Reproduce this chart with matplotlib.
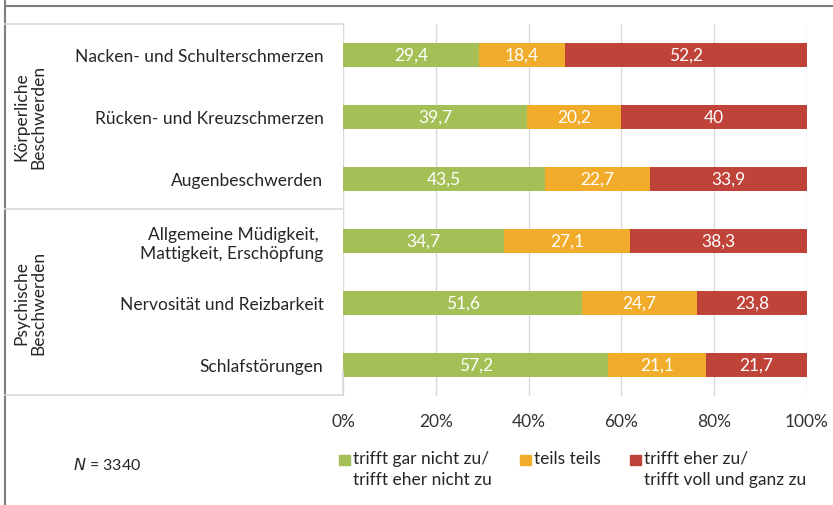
import matplotlib
matplotlib.use("Agg")
import matplotlib.pyplot as plt
from matplotlib.lines import Line2D
from matplotlib.patches import Rectangle

categories = ["Nacken- und Schulterschmerzen", "Rücken- und Kreuzschmerzen", "Augenbeschwerden",
              "Allgemeine Müdigkeit, \nMattigkeit, Erschöpfung", "Nervosität und Reizbarkeit", "Schlafstörungen"]
s_no = [29.4, 39.7, 43.5, 34.7, 51.6, 57.2]
s_partly = [18.4, 20.2, 22.7, 27.1, 24.7, 21.1]
s_yes = [52.2, 40.0, 33.9, 38.3, 23.8, 21.7]
series_names = ["trifft gar nicht zu/\ntrifft eher nicht zu", "teils teils", "trifft eher zu/\ntrifft voll und ganz zu"]
colors = ["#A3BF55", "#F2AC2C", "#C0433A"]
xticks = [0, 20, 40, 60, 80, 100]
groups = ["Körperliche\nBeschwerden", "Psychische\nBeschwerden"]

plt.rcParams['font.family'] = ['Lato', 'DejaVu Sans']
W, H = 833, 506
fig = plt.figure(figsize=(W/100, H/100), dpi=100)

def fx(px): return px / W
def fy(py): return 1 - py / H

ax = fig.add_axes([fx(343), fy(397), fx(807) - fx(343), fy(25) - fy(397)])
y = list(range(len(categories)))
left = [0]*len(categories)
for vals, col, name in zip([s_no, s_partly, s_yes], colors, series_names):
    ax.barh(y, vals, left=left, height=0.4, color=col, label=name, zorder=3)
    for yi, l, v in zip(y, left, vals):
        txt = f"{v:g}".replace(".", ",")
        ax.text(l + v/2, yi, txt, ha='center', va='center', color='white', fontsize=12.5, zorder=4)
    left = [a + b for a, b in zip(left, vals)]

ax.set_xlim(0, 100)
ax.set_ylim(5.5, -0.5)
ax.set_xticks(xticks)
ax.set_xticklabels([f"{t}%" for t in xticks], fontsize=12.5, color='#333333')
ax.set_yticks(y)
ax.set_yticklabels(categories, fontsize=12.5, color='#262626', ha='right')
ax.tick_params(axis='x', length=0, pad=12)
ax.tick_params(axis='y', length=0, pad=14)
for s in ax.spines.values():
    s.set_visible(False)
ax.grid(axis='x', color='#D9D9D9', linewidth=1, zorder=0)
ax.set_axisbelow(True)

# figure border lines
fig.add_artist(Line2D([fx(5), fx(5)], [0, 1], color='#7F7F7F', linewidth=1.5))
fig.add_artist(Line2D([fx(5), 1], [fy(7), fy(7)], color='#7F7F7F', linewidth=1.5))
# table lines
for py in [25, 210, 396]:
    fig.add_artist(Line2D([fx(5), fx(343)], [fy(py), fy(py)], color='#D9D9D9', linewidth=1.2))
fig.add_artist(Line2D([fx(343), fx(343)], [fy(372), fy(396)], color='#D9D9D9', linewidth=1.2))

# group labels
fig.text(fx(30), fy(117), groups[0], rotation=90, ha='center', va='center', fontsize=12.5,
         color='#262626', multialignment='center', linespacing=1.1)
fig.text(fx(30), fy(303), groups[1], rotation=90, ha='center', va='center', fontsize=12.5,
         color='#262626', multialignment='center', linespacing=1.1)

# N
fig.text(fx(73), fy(465), r"$\it{N}$ = 3340", fontsize=11.5, color='#262626', va='center', ha='left')

# legend
leg_x = [339, 520, 630]
for lx, col, name in zip(leg_x, colors, series_names):
    fig.add_artist(Rectangle((fx(lx), fy(466)), 11/W, 10/H, color=col, transform=fig.transFigure))
    fig.text(fx(lx + 14), fy(451), name, fontsize=12.5, color='#262626', va='top', ha='left', linespacing=1.35)

fig.savefig("out.png", dpi=100)
